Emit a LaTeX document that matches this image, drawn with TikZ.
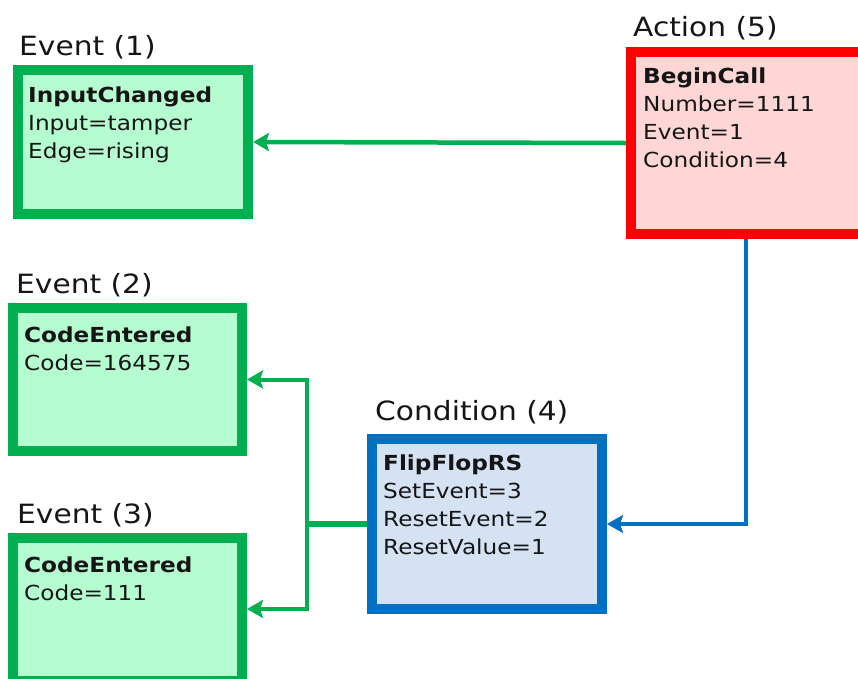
\documentclass[tikz,border=0pt]{standalone}
\usepackage{fontspec}
\setmainfont{DejaVu Sans}[FakeStretch=1.12]
\usetikzlibrary{arrows.meta}
\definecolor{evgreen}{HTML}{00B050}
\definecolor{evfill}{HTML}{B5FDD1}
\definecolor{acred}{HTML}{FF0000}
\definecolor{acfill}{HTML}{FFD6D6}
\definecolor{cdblue}{HTML}{0070C0}
\definecolor{cdfill}{HTML}{D5E2F3}
\definecolor{txt}{HTML}{151515}
\newcommand{\boxlines}[1]{\vtop{\baselineskip=28.3pt\lineskiplimit=-50pt\lineskip=0pt #1}}
\begin{document}
\begin{tikzpicture}[x=1pt,y=-1pt,
  evbox/.style={draw=evgreen,fill=evfill,line width=10pt,rectangle,inner sep=0pt},
  acbox/.style={draw=acred,fill=acfill,line width=10pt,rectangle,inner sep=0pt},
  cdbox/.style={draw=cdblue,fill=cdfill,line width=10pt,rectangle,inner sep=0pt},
  title/.style={anchor=base west,inner sep=0pt,text=txt,font=\fontsize{26.5}{30}\selectfont},
  body/.style={anchor=base west,inner sep=0pt,text=txt,font=\fontsize{20.7}{28}\selectfont},
  tip/.style={-{Stealth[length=16pt,width=18pt,inset=3pt]}},
  gline/.style={draw=evgreen,line width=4pt},
  bline/.style={draw=cdblue,line width=4pt}]
\useasboundingbox (0,0) rectangle (858,678);
\clip (0,0) rectangle (858,678);
% boxes
\node[evbox,minimum width=230pt,minimum height=144pt] (e1) at (133,142) {};
\node[evbox,minimum width=229pt,minimum height=143pt] (e2) at (127.5,379.5) {};
\node[evbox,minimum width=229pt,minimum height=143pt] (e3) at (127.5,609) {};
\node[acbox,minimum width=235pt,minimum height=182pt] (ac) at (748.5,143) {};
\node[cdbox,minimum width=230pt,minimum height=170pt] (cd) at (487,524) {};
% titles
\node[title] (t1) at (19,55) {Event (1)};
\node[title] (t2) at (16,293) {Event (2)};
\node[title] (t3) at (17,523) {Event (3)};
\node[title] (t5) at (633,36) {Action (5)};
\node[title] (t4) at (375,420) {Condition (4)};
% body text
\node[body] (b1) at (28,102) {\boxlines{\hbox{\textbf{InputChanged}}\hbox{Input=tamper}\hbox{Edge=rising}}};
\node[body] (b2) at (24,342) {\boxlines{\hbox{\textbf{CodeEntered}}\hbox{Code=164575}}};
\node[body] (b3) at (24,572) {\boxlines{\hbox{\textbf{CodeEntered}}\hbox{Code=111}}};
\node[body] (b5) at (643,83) {\boxlines{\hbox{\textbf{BeginCall}}\hbox{Number=1111}\hbox{Event=1}\hbox{Condition=4}}};
\node[body] (b4) at (383,470) {\boxlines{\hbox{\textbf{FlipFlopRS}}\hbox{SetEvent=3}\hbox{ResetEvent=2}\hbox{ResetValue=1}}};
% connectors
\coordinate (j) at (307,524);
\coordinate (jl) at (305,524);
\draw[gline,line width=4.5pt,tip] (ac.west) -- (e1.east);
\draw[bline,tip] ([xshift=-2.5pt]ac.south) |- (cd.east);
\draw[gline,line width=6.5pt] (cd.west) -- (jl);
\draw[gline,tip] (j) |- (e2.east);
\draw[gline,tip] (j) |- (e3.east);
\end{tikzpicture}
\end{document}
